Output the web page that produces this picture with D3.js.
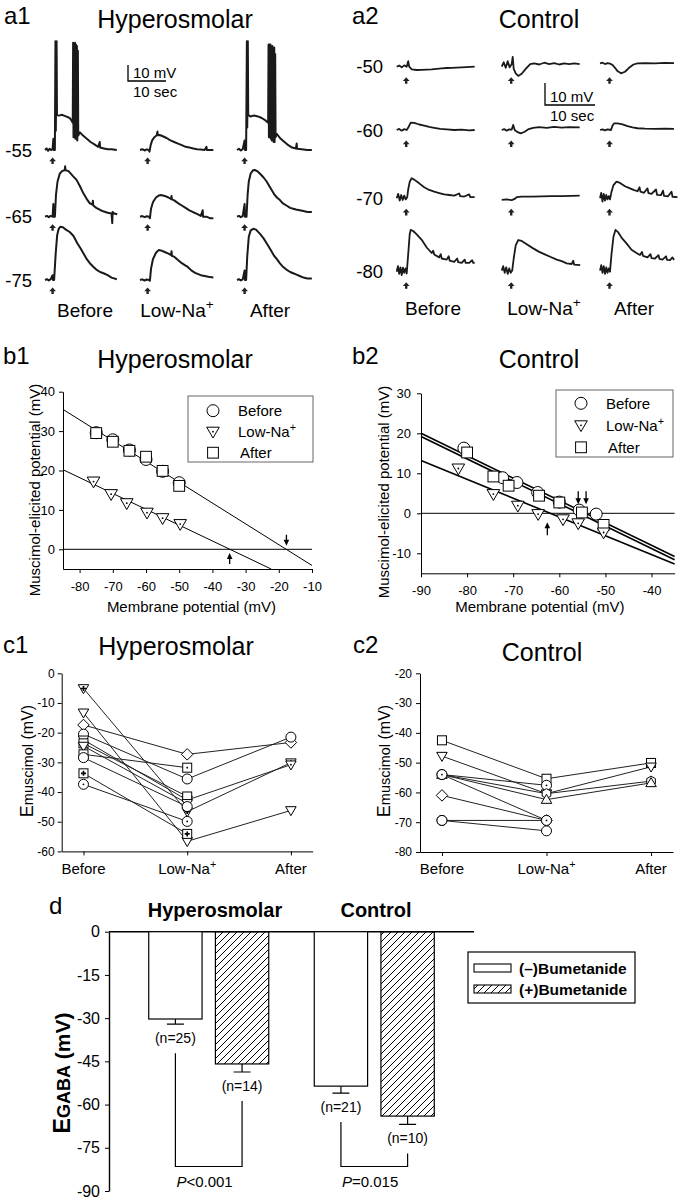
<!DOCTYPE html>
<html>
<head>
<meta charset="utf-8">
<script src="https://d3js.org/d3.v7.min.js"></script>
<title>Muscimol responses</title>
<style>
  body { margin: 0; background: #fff; }
  svg { display: block; }
</style>
</head>
<body>
<script>
// ---------------- data ----------------
var conditions = ["Before", "Low-Na", "After"];

// a1: holding potentials and traces, points are [time (s), deflection from holding (mV)]
var a1Holding = [-55, -65, -75];
var a1Before = [
  [[0,0],[0.4,1],[0.8,-0.5],[1.2,0.8],[1.6,0],[2.0,0.5],[2.2,7],[2.3,0],[2.6,0],[2.75,68],[2.85,12],[3.05,68],[3.15,22],[3.6,21.5],[4.5,22],[5.5,21],[6.5,20],[7.1,18],[7.3,17],[7.4,67],[7.5,8],[7.65,66],[7.75,8],[7.9,67],[8.0,7],[8.15,66],[8.25,7],[8.4,65],[8.5,6],[8.65,62],[8.75,9],[9.2,11],[10,9],[11,7],[12,5],[13,3.5],[14,2],[14.4,5],[14.5,1.5],[15.5,1],[16.5,0.5],[17.5,0.5],[18.9,0]],
  [[0,0],[0.5,0.5],[1,-0.3],[1.5,0.5],[2,0],[2.2,8],[2.3,0],[2.6,0],[2.9,14],[3.3,22],[3.9,27],[4.5,28.5],[5.2,29.2],[5.3,31.5],[5.4,29],[6.2,28.5],[7.3,25.5],[8.3,23],[9.2,19],[10.1,14.6],[11,11],[11.8,8.3],[12.5,7.5],[12.6,10],[12.7,7],[13.5,5.5],[14.5,4.2],[15.5,3.2],[16.5,2.5],[17.5,2],[17.7,-4],[17.8,3],[18.2,2],[19,1.5]],
  [[0,0],[0.5,0.5],[1,-0.3],[1.5,0.5],[2,3],[2.1,0],[2.4,0],[2.8,16],[3.2,28],[3.6,32],[4,33.3],[4.7,33],[5.5,31.5],[6.5,30],[7.5,27.5],[8.5,23],[9.3,20],[10.1,16.7],[11,13],[11.8,10.5],[12.7,8.3],[13.5,6.5],[14.5,5],[15.4,4.2],[16.5,3],[17.5,1.5],[18.9,0.5]]
];
var a1LowNa = [
  [[0,0],[0.6,0.5],[1.2,-0.3],[1.8,0.4],[2.3,0],[2.5,-1],[2.8,3],[3.2,6],[3.8,8],[4.4,9.2],[4.6,11.5],[4.7,9.2],[5.2,9.4],[6,8.6],[7,7.5],[8,6],[9,5],[10,4],[11,3],[12,2],[13,1.5],[14,1],[15,0.5],[16,0.3],[17,0],[17.5,2],[17.6,0],[19.3,0]],
  [[0,0],[0.6,0.4],[1.2,-0.3],[1.8,0.3],[2.4,0],[2.6,-1],[2.9,5],[3.4,9],[4.2,12],[5,13.3],[5.5,13.5],[6.5,13],[7.5,12],[8.2,11],[8.3,13],[8.4,10.8],[9,10.2],[10,8.5],[11,7],[12,5.5],[13,4],[14,2.8],[15,1.8],[16,0.5],[16.5,4],[16.6,0],[17.5,0],[18.5,-1],[19.3,-1]],
  [[0,0],[0.6,0.4],[1.2,-0.3],[1.8,0.3],[2.4,0],[2.6,-0.5],[2.9,7],[3.4,13],[4.2,17],[4.9,18.7],[5.5,18.5],[6.5,17.5],[7.5,16.5],[8.2,15.5],[8.3,18],[8.4,15],[9,14.6],[10,12.5],[11,10.5],[12,9],[12.5,8.3],[13.5,6],[14.5,4.5],[15.5,3.5],[16,3],[17,2.5],[18,2],[19.3,1.5]]
];
var a1After = [
  [[0,0],[0.5,0.8],[1,-0.3],[1.5,0.5],[2.0,6],[2.1,0],[2.4,0],[2.6,68],[2.7,14],[2.85,68],[2.95,22],[3.5,21],[4.5,21.5],[5.5,21],[6.5,20],[7.5,18.5],[8.2,17],[8.3,66],[8.4,8],[8.55,66],[8.65,8],[8.8,66],[8.9,7],[9.05,65],[9.15,6],[9.3,65],[9.4,6],[9.55,64],[9.65,5],[9.8,64],[9.9,5],[10.05,60],[10.15,8],[10.5,10],[11.5,7],[12.5,5],[13.5,3],[14.5,1.5],[15.5,1],[15.7,4],[15.8,0.8],[17,0.5],[18.5,0],[19.7,0]],
  [[0,0],[0.5,0.5],[1,-0.3],[1.5,0.4],[2,8],[2.1,0],[2.5,0],[2.8,14],[3.1,22],[3.6,27],[4.2,29],[4.7,29.2],[5.3,28.5],[6,27],[7,24.5],[7.8,22],[8.8,18],[9.8,14],[10.5,12],[11.3,10.4],[12,8.5],[13,7],[14,5.5],[14.8,5],[15.5,4.5],[16.5,4],[17.5,3.5],[18.5,3],[19.7,3]],
  [[0,0],[0.5,0.5],[1,-0.3],[1.5,0.4],[2,6],[2.1,0],[2.4,0],[2.7,15],[3.1,27],[3.6,31],[4.3,32],[5,31.5],[6,29],[7,26],[7.8,23],[8.8,19],[9.8,15],[10.5,13],[11.3,10.4],[12,8.5],[13,6.5],[14,5],[14.8,4.2],[15.5,3.5],[16.5,2.5],[17.5,1.5],[18.5,1],[19.7,1]]
];

// a2: control traces
var a2Holding = [-50, -60, -70, -80];
var a2Before = [
  [[0,0],[0.5,0.5],[1,-0.3],[1.5,0.6],[2,0],[2.3,2.5],[2.5,0],[3,-1.2],[4,-1.5],[5,-1.4],[6,-1.3],[7,-1.2],[8,-1],[9,-0.8],[10,-0.6],[11,-0.5],[12,-0.4],[13,-0.3],[14,-0.2],[15.6,0]],
  [[0,0],[0.5,0.5],[1,-0.3],[1.5,0.4],[2,0],[2.4,1.5],[2.8,3.3],[3.5,3.2],[4.5,2.5],[5.5,2],[6.5,1.4],[7.5,1],[8.7,0.5],[10,0.3],[11.5,0],[13,0.2],[14.5,-0.2],[15.6,0]],
  [[0,0],[0.3,2],[0.6,-1],[0.9,1.5],[1.2,-0.8],[1.5,1.2],[1.8,-0.5],[2.1,0.5],[2.3,4],[2.6,7.5],[3,9.1],[3.5,8.5],[4.5,6.8],[5.5,5],[6.5,3.8],[7.5,3],[8.5,2.4],[9.5,1.8],[10.5,1.5],[11.5,1.2],[12.5,2.2],[12.7,1],[13.5,0.8],[14.5,1.8],[14.7,0.6],[15.6,0.5]],
  [[0,0],[0.25,2.5],[0.5,-1],[0.75,2],[1,-1.5],[1.25,1.8],[1.5,-0.5],[1.75,1.5],[2,-0.8],[2.3,8],[2.6,17],[2.8,19],[3.3,18.5],[4,17],[5,14.5],[6,11],[7,8.5],[7.3,9.5],[7.5,7.8],[8.5,6.5],[8.8,8],[9,6],[10,5.5],[10.4,7],[10.6,5],[11.5,4.5],[12.1,6],[12.3,4.3],[13,4],[13.6,5.5],[13.8,4],[14.5,4],[15.1,5.2],[15.3,4],[15.6,4]]
];
var a2LowNa = [
  [[0,0],[0.4,2],[0.8,-0.5],[1.2,2.5],[1.6,-0.3],[2,1.2],[2.2,4.5],[2.4,-1],[2.8,-3],[3.3,-4.2],[4,-3.2],[4.8,-1],[5.7,1.2],[6.5,1.5],[7.5,1],[8.5,1.8],[9.5,1.2],[10.5,1.6],[11.5,1],[12.5,1.5],[13.5,1.2],[14.5,1.5],[15.6,1.2]],
  [[0,0],[0.5,0.4],[1,-0.3],[1.5,0.3],[2,0.2],[2.3,2.3],[2.6,0],[3.2,-1],[3.8,-1.5],[4.6,-0.8],[5.4,0.4],[6.3,1],[7.5,1.3],[9,1],[10.5,1.4],[12,1.1],[13.5,1.3],[15.6,1.2]],
  [[0,-0.7],[1,-0.5],[2,-0.8],[2.5,-0.4],[3,0.5],[4,0.8],[6,0.8],[8,0.9],[10,1],[12,1],[14,1.1],[15.6,1.2]],
  [[0,0.5],[0.3,2.5],[0.6,-0.5],[0.9,2],[1.2,-1],[1.5,1.5],[1.8,-0.5],[2.1,0.5],[2.4,6],[2.8,12],[3.3,14.4],[4,14],[5,12.5],[6.3,10.6],[7.5,9],[8.5,8],[9.7,6.8],[11,5.5],[12,4.8],[13,3.8],[14,3.5],[14.3,5],[14.5,3.2],[15.7,3]]
];
var a2After = [
  [[0,1.5],[0.5,1.8],[1,1.2],[1.5,1.6],[2,1.4],[2.5,0.8],[3,-0.5],[3.5,-2],[4.2,-3],[5,-2.3],[5.8,-0.5],[6.7,1],[7.5,1.5],[9,1.6],[11,1.5],[13,1.7],[14.8,1.6]],
  [[0,0],[0.5,0.3],[1,-0.2],[1.5,0.3],[2.2,0],[2.5,2],[2.8,3],[3.5,3],[4.5,2.6],[5.5,1.8],[6.5,1.2],[7.5,0.8],[9,0.6],[11,0.5],[13,0.6],[14.8,0.5]],
  [[0,0],[0.25,2.5],[0.5,-1.5],[0.75,2],[1,-1],[1.25,1.5],[1.5,-0.5],[1.75,1],[2,-0.5],[2.3,3],[2.7,6],[3.3,7.6],[4,7],[5,5.5],[6,4.5],[6.7,3.8],[7.5,3.2],[7.9,5],[8.1,3],[8.8,2.5],[9.5,4.5],[9.7,2.3],[10.3,2],[11.2,4],[11.4,1.6],[12.2,1.4],[12.6,3.5],[12.8,1.1],[13.6,0.9],[14.3,3],[14.5,0.7],[15.5,0.5]],
  [[0,0.5],[0.25,3],[0.5,-0.5],[0.75,2.5],[1,-1],[1.25,2],[1.5,-0.5],[1.75,1.5],[2,0],[2.3,8],[2.7,16],[3.1,19],[3.6,18],[4.3,15.5],[5.3,12.9],[6.3,10],[7.3,8.5],[8,7.6],[8.4,9],[8.6,7.2],[9.5,6.5],[10.1,8],[10.3,6.2],[11,6],[11.7,7.5],[11.9,5.8],[12.5,5.5],[13.2,7],[13.4,5.4],[14,5.3],[14.5,6.5],[14.8,5.3]]
];

// b1: I-V of muscimol responses, hyperosmolar
var b1Vm = [-75, -70, -65, -60, -55, -50];
var b1Before = [29.6, 27.8, 25.2, 22.8, 19.8, 16.9];
var b1After = [29.5, 27.3, 25.0, 23.5, 19.9, 16.1];
var b1LowNaVm = [-75.8, -70.5, -65.8, -59.7, -55, -49.7];
var b1LowNa = [17.2, 14.0, 11.7, 9.3, 7.9, 6.4];
var b1Fits = [[-85, 35.5, -10, -4.1], [-85, 20.2, -22.3, -5]];
var b1Reversal = [[-17.7, "down"], [-34.8, "up"]];

// b2: control
var b2BeforeVm = [-80.7, -72.3, -69.2, -64.7, -60, -55.7, -52];
var b2Before = [16.3, 8.9, 7.7, 5.2, 2.8, 0.8, -0.2];
var b2AfterVm = [-80, -74.3, -71, -64.4, -60, -55.1, -50.4];
var b2After = [15.2, 9.2, 6.9, 4.4, 2.7, 0.2, -2.9];
var b2LowNaVm = [-81.9, -74.3, -69, -64.6, -59.2, -55.9, -50.4];
var b2LowNa = [11.2, 4.8, 1.9, -0.2, -1.5, -2.5, -4.8];
var b2Fits = [[-90, 20, -35, -10.8], [-90, 19.2, -35, -11.6], [-90, 13.2, -35, -12.7]];
var b2Reversal = [[-55.9, "down"], [-54.2, "down"], [-62.6, "up"]];

// c1: E muscimol per cell, hyperosmolar
var c1Markers = ["triDownPlus", "triDown", "diamond", "circle", "triDownDot", "square", "triDown", "squareDot", "circle", "squarePlus", "circleDot"];
var c1Before = [-5.1, -13.3, -17.4, -20.5, -22.4, -23.6, -24.5, -27.3, -28.4, -33.7, -37.4];
var c1LowNa = [-46.6, -56.6, -27.3, -35.6, -42.7, -41.5, -43.8, -31.8, -44.9, -54.1, -49.9];
var c1After = [-30.1, -46.2, -23.3, -21.5, -30.8, null, null, null, null, null, null];

// c2: control
var c2Markers = ["square", "triDown", "circleDot", "hexagon", "triUp", "circleDot", "diamond", "circleDot", "circle"];
var c2Before = [-42.5, -47.8, -54, -54, -54, -54, -61, -69.4, -69.4];
var c2LowNa = [-55.4, -60.4, -57.6, -60.4, -62.4, -69.4, -69.4, -69.4, -72.9];
var c2After = [-50.1, -51.4, null, -56.2, -56.8, null, null, null, null];

// d: E GABA with / without bumetanide
var dGroups = ["Hyperosmolar", "Control"];
var dMinusMean = [-30.3, -53.6];
var dMinusSem = [1.8, 2.4];
var dPlusMean = [-45.9, -64.0];
var dPlusSem = [2.8, 2.9];
var dMinusN = [25, 21];
var dPlusN = [14, 10];
var dPvalues = ["<0.001", "=0.015"];

// ---------------- drawing ----------------
var FONT = '"Liberation Sans", Arial, Helvetica, sans-serif';
var svg = d3.select("body").append("svg")
  .attr("width", 682).attr("height", 1199)
  .attr("font-family", FONT);
svg.append("rect").attr("width", 682).attr("height", 1199).attr("fill", "#fff");

var defs = svg.append("defs");
defs.append("pattern").attr("id", "hatch")
  .attr("patternUnits", "userSpaceOnUse").attr("width", 7).attr("height", 7)
  .append("path").attr("d", "M-1,1 l2,-2 M0,7 l7,-7 M6,8 l2,-2")
  .attr("stroke", "#000").attr("stroke-width", 1);

function addText(g, x, y, s, size, anchor, weight) {
  return g.append("text").attr("x", x).attr("y", y)
    .attr("font-size", size).attr("text-anchor", anchor || "start")
    .attr("font-weight", weight || "normal").attr("fill", "#000").text(s);
}

// text with the superscript + on Na
function condText(g, x, y, s, size, anchor) {
  var t = g.append("text").attr("x", x).attr("y", y).attr("font-size", size)
    .attr("text-anchor", anchor || "middle").attr("fill", "#000");
  if (s === "Low-Na") {
    t.append("tspan").text("Low-Na");
    t.append("tspan").attr("font-size", size * 0.72).attr("dy", -size * 0.42).text("+");
  } else {
    t.text(s);
  }
  return t;
}

function styleAxis(g, size) {
  g.attr("font-family", FONT).attr("font-size", size);
  g.selectAll(".domain").attr("stroke", "#000");
  g.selectAll(".tick line").attr("stroke", "#000");
  g.selectAll(".tick text").attr("fill", "#000");
}

// ---- a panels: traces ----
var arrowPath = "M0,0L3.4,3.8L1.2,3.8L1.2,6.6L-1.2,6.6L-1.2,3.8L-3.4,3.8Z";

function tracePanel(cfg) {
  var g = svg.append("g");
  var cols = [cfg.before, cfg.lowNa, cfg.after];
  cfg.holding.forEach(function(h, r) {
    addText(g, cfg.labelX, cfg.rowY[r] + 6.5, h, 18.5, "end");
    cols.forEach(function(traces, c) {
      var x = d3.scaleLinear().domain([0, 10]).range([cfg.colX[c], cfg.colX[c] + 10 * cfg.pxPerSec]);
      var y = d3.scaleLinear().domain([0, 10]).range([cfg.rowY[r], cfg.rowY[r] - 10 * cfg.pxPerMv]);
      var line = d3.line().x(function(d) { return x(d[0]); }).y(function(d) { return y(d[1]); });
      g.append("path").attr("d", line(traces[r]))
        .attr("fill", "none").attr("stroke", "#1a1a1a")
        .attr("stroke-width", cfg.lw).attr("stroke-linejoin", "round");
      g.append("path").attr("d", arrowPath)
        .attr("transform", "translate(" + x(cfg.arrowT) + "," + (cfg.rowY[r] + cfg.arrowDy) + ")")
        .attr("fill", "#222");
    });
  });
  conditions.forEach(function(c, i) { condText(g, cfg.colLabelX[i], cfg.colLabelY, c, 19); });
  // 10 mV / 10 sec scale bar
  var sx = d3.scaleLinear().domain([0, 10]).range([cfg.bar[0], cfg.bar[0] + 10 * cfg.pxPerSec]);
  var sy = d3.scaleLinear().domain([0, 10]).range([cfg.bar[1], cfg.bar[1] - 10 * cfg.pxPerMv]);
  g.append("path").attr("d", "M" + sx(0) + "," + sy(10) + "V" + sy(0) + "H" + sx(10))
    .attr("fill", "none").attr("stroke", "#000").attr("stroke-width", 1.3);
  addText(g, sx(0) + 5, sy(0) - 3, "10 mV", 15);
  addText(g, sx(0) + 5, sy(0) + 16, "10 sec", 15);
}

tracePanel({
  holding: a1Holding, before: a1Before, lowNa: a1LowNa, after: a1After,
  colX: [45, 140, 237], rowY: [150, 216.7, 280], pxPerSec: 3.8, pxPerMv: 1.6,
  labelX: 32, arrowT: 2.0, arrowDy: 7.5, lw: 2,
  colLabelX: [85, 177, 270], colLabelY: 317, bar: [128, 81]
});
tracePanel({
  holding: a2Holding, before: a2Before, lowNa: a2LowNa, after: a2After,
  colX: [396.7, 501.7, 600], rowY: [66.7, 130, 198.3, 271.7], pxPerSec: 5, pxPerMv: 2.2,
  labelX: 383, arrowT: 1.9, arrowDy: 10.5, lw: 1.8,
  colLabelX: [433, 544, 634], colLabelY: 315, bar: [545, 105]
});
addText(svg, 4, 24, "a1", 24);
addText(svg, 352, 24, "a2", 24);
addText(svg, 175, 28, "Hyperosmolar", 25, "middle");
addText(svg, 539, 28, "Control", 25, "middle");

// ---- markers ----
function drawMarker(g, type, s) {
  var shape;
  if (type.indexOf("circle") === 0) {
    shape = g.append("circle").attr("r", s);
  } else if (type.indexOf("square") === 0) {
    var h = s * 0.9;
    shape = g.append("rect").attr("x", -h).attr("y", -h).attr("width", 2 * h).attr("height", 2 * h);
  } else if (type.indexOf("triDown") === 0) {
    shape = g.append("path").attr("d", "M" + (-s * 1.05) + "," + (-s * 0.75) + "L" + (s * 1.05) + "," + (-s * 0.75) + "L0," + (s * 1.05) + "Z");
  } else if (type.indexOf("triUp") === 0) {
    shape = g.append("path").attr("d", "M" + (-s * 1.05) + "," + (s * 0.75) + "L" + (s * 1.05) + "," + (s * 0.75) + "L0," + (-s * 1.05) + "Z");
  } else if (type === "diamond") {
    var q = s * 1.15;
    shape = g.append("path").attr("d", "M0," + (-q) + "L" + q + ",0L0," + q + "L" + (-q) + ",0Z");
  } else if (type === "hexagon") {
    var pts = d3.range(6).map(function(i) {
      var a = Math.PI / 3 * i + Math.PI / 6;
      return [s * Math.cos(a), s * Math.sin(a)];
    });
    shape = g.append("path").attr("d", "M" + pts.join("L") + "Z");
  }
  shape.attr("fill", "#fff").attr("stroke", "#000").attr("stroke-width", 1);
  if (/Dot$/.test(type)) {
    g.append("circle").attr("r", 0.9).attr("fill", "#000");
  }
  if (/Plus$/.test(type)) {
    g.append("path").attr("d", "M-2.5,0H2.5M0,-2.5V2.5").attr("stroke", "#000").attr("stroke-width", 1.6);
  }
}

// ---- b panels: I-V plots ----
function ivPanel(cfg) {
  var g = svg.append("g");
  var x = d3.scaleLinear().domain(cfg.xDomain).range(cfg.xRange);
  var y = d3.scaleLinear().domain(cfg.yDomain).range(cfg.yRange);
  var fmt = function(d) { return String(d); };
  var ax = g.append("g").attr("transform", "translate(0," + cfg.yRange[0] + ")")
    .call(d3.axisBottom(x).tickValues(cfg.xTicks).tickSize(4).tickSizeOuter(0).tickPadding(cfg.xPad).tickFormat(fmt));
  styleAxis(ax, 13);
  var ay = g.append("g").attr("transform", "translate(" + cfg.xRange[0] + ",0)")
    .call(d3.axisLeft(y).tickValues(cfg.yTicks).tickSize(4).tickSizeOuter(0).tickPadding(cfg.yPad).tickFormat(fmt));
  styleAxis(ay, 13);

  g.append("line").attr("x1", x(cfg.xDomain[0])).attr("x2", x(cfg.xDomain[1]))
    .attr("y1", y(0)).attr("y2", y(0)).attr("stroke", "#000");
  cfg.fits.forEach(function(f) {
    g.append("line").attr("x1", x(f[0])).attr("y1", y(f[1])).attr("x2", x(f[2])).attr("y2", y(f[3]))
      .attr("stroke", "#000").attr("stroke-width", cfg.fitW);
  });

  var sets = [[cfg.beforeVm, cfg.before, "circle"], [cfg.afterVm, cfg.after, "square"], [cfg.lowVm, cfg.low, "triDownDot"]];
  sets.forEach(function(st) {
    st[0].forEach(function(v, i) {
      var m = g.append("g").attr("transform", "translate(" + x(v) + "," + y(st[1][i]) + ")");
      drawMarker(m, st[2], 6);
    });
  });

  cfg.arrows.forEach(function(a) {
    var ax0 = x(a[0]), y0 = y(0), tip, tail;
    if (a[1] === "down") { tip = y0 - cfg.arrowGap; tail = tip - cfg.arrowLen; }
    else { tip = y0 + cfg.arrowGap; tail = tip + cfg.arrowLen; }
    var dir = a[1] === "down" ? -1 : 1;
    g.append("line").attr("x1", ax0).attr("x2", ax0).attr("y1", tail).attr("y2", tip + dir * 4)
      .attr("stroke", "#000").attr("stroke-width", 1.3);
    g.append("path").attr("d", "M" + ax0 + "," + tip + "L" + (ax0 - 2.8) + "," + (tip + dir * 6) + "L" + (ax0 + 2.8) + "," + (tip + dir * 6) + "Z")
      .attr("fill", "#000");
  });

  // legend
  var L = cfg.legend;
  g.append("rect").attr("x", L[0]).attr("y", L[1]).attr("width", L[2]).attr("height", L[3])
    .attr("fill", "#fff").attr("stroke", "#666");
  var entries = [["circle", "Before"], ["triDownDot", "Low-Na"], ["square", "After"]];
  entries.forEach(function(e, i) {
    var yy = L[1] + L[4] + i * L[5];
    var m = g.append("g").attr("transform", "translate(" + (L[0] + 25) + "," + yy + ")");
    drawMarker(m, e[0], 6);
    condText(g, L[0] + 50 + (e[1] === "After" ? 2 : 0), yy + 5.5, e[1], 15, "start");
  });

  addText(g, (cfg.xRange[0] + cfg.xRange[1]) / 2 + cfg.xLabelDx, 612, "Membrane potential (mV)", 15, "middle");
  g.append("text").attr("transform", "translate(" + cfg.yLabel[0] + "," + cfg.yLabel[1] + ") rotate(-90)")
    .attr("text-anchor", "middle").attr("font-size", 15).attr("fill", "#000")
    .text("Muscimol-elicited potential (mV)");
}

ivPanel({
  xDomain: [-85, -10], xRange: [63, 312], yDomain: [-5, 40], yRange: [569, 391.7],
  xTicks: d3.range(-80, -9, 10), yTicks: [0, 10, 20, 30, 40], xPad: 9, yPad: 4,
  beforeVm: b1Vm, before: b1Before, afterVm: b1Vm, after: b1After, lowVm: b1LowNaVm, low: b1LowNa,
  fits: b1Fits, fitW: 1, arrows: b1Reversal, arrowGap: 3.6, arrowLen: 11,
  legend: [188, 396, 125, 66, 14.7, 21], xLabelDx: 4, yLabel: [40, 490]
});
ivPanel({
  xDomain: [-90, -35], xRange: [421, 674.6], yDomain: [-15, 30], yRange: [573.3, 393.3],
  xTicks: d3.range(-90, -39, 10), yTicks: [-10, 0, 10, 20, 30], xPad: 8, yPad: 6,
  beforeVm: b2BeforeVm, before: b2Before, afterVm: b2AfterVm, after: b2After, lowVm: b2LowNaVm, low: b2LowNa,
  fits: b2Fits, fitW: 1.6, arrows: b2Reversal, arrowGap: 9, arrowLen: 13,
  legend: [556, 390, 117, 67, 13.3, 22], xLabelDx: -8, yLabel: [389, 492]
});
addText(svg, 3, 364, "b1", 24);
addText(svg, 352, 364, "b2", 24);
addText(svg, 175, 368, "Hyperosmolar", 25, "middle");
addText(svg, 539, 368, "Control", 25, "middle");

// ---- c panels: E muscimol per cell ----
function seriesPanel(cfg) {
  var g = svg.append("g");
  var x = d3.scalePoint().domain(conditions).range(cfg.xRange).padding(0.21);
  var y = d3.scaleLinear().domain(cfg.yDomain).range(cfg.yRange);
  var ax = g.append("g").attr("transform", "translate(0," + cfg.yRange[0] + ")")
    .call(d3.axisBottom(x).tickSize(4).tickSizeOuter(0).tickFormat(""));
  styleAxis(ax, 12);
  var ay = g.append("g").attr("transform", "translate(" + cfg.xRange[0] + ",0)")
    .call(d3.axisLeft(y).tickValues(d3.range(cfg.yDomain[0], cfg.yDomain[1] + 1, 10)).tickSize(4)
      .tickSizeOuter(0).tickPadding(cfg.yPad).tickFormat(function(d) { return String(d); }));
  styleAxis(ay, 12);
  conditions.forEach(function(c) { condText(g, x(c), 874, c, 15); });

  var line = d3.line().x(function(d) { return x(d[0]); }).y(function(d) { return y(d[1]); });
  var series = cfg.markers.map(function(m, i) {
    return [["Before", cfg.before[i]], ["Low-Na", cfg.low[i]], ["After", cfg.after[i]]]
      .filter(function(p) { return p[1] !== null; });
  });
  series.forEach(function(pts) {
    g.append("path").attr("d", line(pts)).attr("fill", "none").attr("stroke", "#222").attr("stroke-width", 1);
  });
  series.forEach(function(pts, i) {
    pts.forEach(function(p) {
      var m = g.append("g").attr("transform", "translate(" + x(p[0]) + "," + y(p[1]) + ")");
      drawMarker(m, cfg.markers[i], 5);
    });
  });

  var t = g.append("text").attr("transform", "translate(" + cfg.yLabel[0] + "," + cfg.yLabel[1] + ") rotate(-90)")
    .attr("text-anchor", "middle").attr("fill", "#000");
  t.append("tspan").attr("font-size", 18).text("E");
  t.append("tspan").attr("font-size", 14.5).text("muscimol");
  t.append("tspan").attr("font-size", 16).text(" (mV)");
}

seriesPanel({
  xRange: [61.7, 312.7], yDomain: [-60, 0], yRange: [851.4, 673.3], yPad: 3,
  markers: c1Markers, before: c1Before, low: c1LowNa, after: c1After, yLabel: [33, 761]
});
seriesPanel({
  xRange: [420, 673], yDomain: [-80, -20], yRange: [852, 673.3], yPad: 4,
  markers: c2Markers, before: c2Before, low: c2LowNa, after: c2After, yLabel: [390, 761]
});
addText(svg, 3, 653, "c1", 24);
addText(svg, 353, 653, "c2", 24);
addText(svg, 176, 655, "Hyperosmolar", 25, "middle");
addText(svg, 542, 661, "Control", 25, "middle");

// ---- d: bar chart ----
(function() {
  var g = svg.append("g");
  var gx = d3.scaleBand().domain(dGroups).range([109, 474]).paddingInner(0.275).paddingOuter(0.24);
  var bx = d3.scaleBand().domain(["minus", "plus"]).range([0, gx.bandwidth()]).paddingInner(0.2);
  var y = d3.scaleLinear().domain([-90, 0]).range([1191, 931.7]);

  var ay = g.append("g").attr("transform", "translate(109,0)")
    .call(d3.axisLeft(y).tickValues(d3.range(-90, 1, 15)).tickSize(4).tickSizeOuter(0).tickPadding(5)
      .tickFormat(function(d) { return String(d); }));
  styleAxis(ay, 16);
  ay.select(".domain").attr("stroke-width", 1.4);
  g.append("line").attr("x1", 109).attr("x2", 474).attr("y1", y(0)).attr("y2", y(0))
    .attr("stroke", "#000").attr("stroke-width", 1.4);

  var titleX = [215, 376];
  dGroups.forEach(function(grp, i) {
    addText(g, titleX[i], 916.5, grp, 20, "middle", "bold");
    var bars = [["minus", dMinusMean[i], dMinusSem[i], dMinusN[i], "#fff"],
                ["plus", dPlusMean[i], dPlusSem[i], dPlusN[i], "url(#hatch)"]];
    var centers = [], nY = [];
    bars.forEach(function(b) {
      var x0 = gx(grp) + bx(b[0]);
      var cx = x0 + bx.bandwidth() / 2;
      g.append("rect").attr("x", x0).attr("y", y(0)).attr("width", bx.bandwidth())
        .attr("height", y(b[1]) - y(0)).attr("fill", b[4]).attr("stroke", "#000").attr("stroke-width", 1.2);
      g.append("path").attr("d", "M" + cx + "," + y(b[1]) + "V" + y(b[1] - b[2]) + "M" + (cx - 8.5) + "," + y(b[1] - b[2]) + "H" + (cx + 8.5))
        .attr("stroke", "#000").attr("stroke-width", 1.2).attr("fill", "none");
      var ny = y(b[1] - b[2]) + 19;
      addText(g, cx, ny, "(n=" + b[3] + ")", 14, "middle");
      centers.push(cx); nY.push(ny);
    });
    var by = y(-81.5);
    g.append("path").attr("d", "M" + centers[0] + "," + (nY[0] + 10) + "V" + by + "H" + centers[1] + "V" + (nY[1] + 10))
      .attr("fill", "none").attr("stroke", "#000").attr("stroke-width", 1.2);
    var pt = g.append("text").attr("x", centers[0] + 1).attr("y", by + 20).attr("font-size", 15).attr("fill", "#000");
    pt.append("tspan").attr("font-style", "italic").text("P");
    pt.append("tspan").text(dPvalues[i]);
  });

  // axis title
  var t = g.append("text").attr("transform", "translate(70,1073) rotate(-90)")
    .attr("text-anchor", "middle").attr("font-weight", "bold").attr("fill", "#000");
  t.append("tspan").attr("font-size", 23).text("E");
  t.append("tspan").attr("font-size", 18).text("GABA");
  t.append("tspan").attr("font-size", 21).text(" (mV)");

  // legend
  g.append("rect").attr("x", 468).attr("y", 952).attr("width", 167).attr("height", 51)
    .attr("fill", "#fff").attr("stroke", "#000").attr("stroke-width", 1.2);
  [["#fff", "(\u2013)Bumetanide"], ["url(#hatch)", "(+)Bumetanide"]].forEach(function(e, i) {
    g.append("rect").attr("x", 474).attr("y", 964 + i * 21).attr("width", 37).attr("height", 8)
      .attr("fill", e[0]).attr("stroke", "#000").attr("stroke-width", 1.1);
    addText(g, 519, 974 + i * 21, e[1], 15.5, "start", "bold");
  });
  addText(svg, 49, 914, "d", 24);
})();
</script>
</body>
</html>
